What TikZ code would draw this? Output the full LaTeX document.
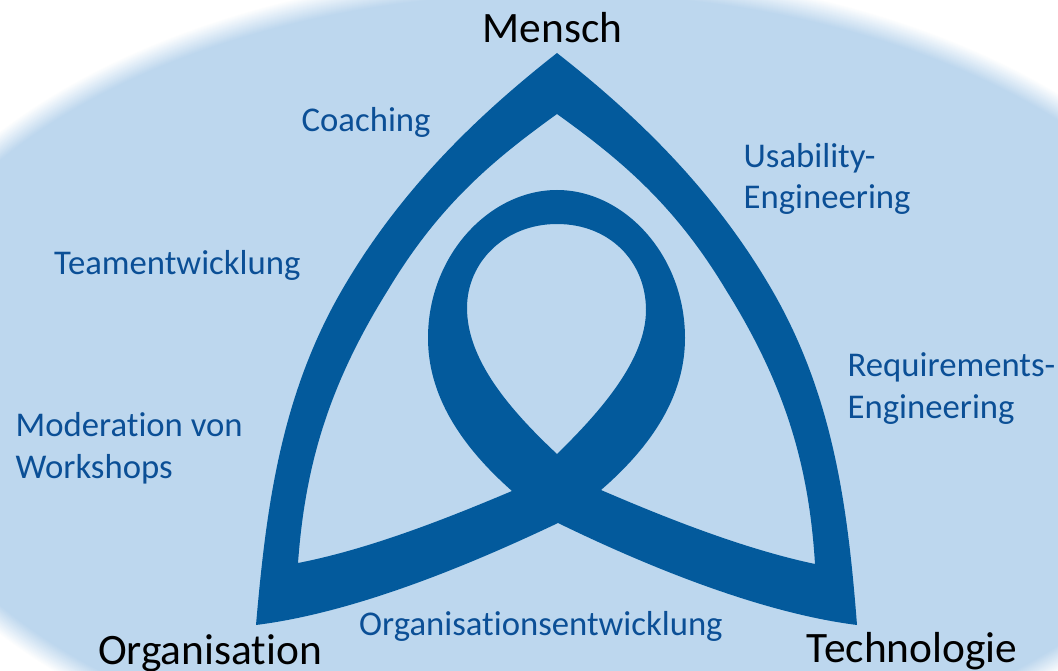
\documentclass[tikz,border=0pt]{standalone}
\usepackage{fontspec}
\setmainfont[Ligatures=NoCommon]{Carlito}
\definecolor{ribbon}{HTML}{035A9C}
\definecolor{bgblue}{HTML}{BDD7EE}
\definecolor{labelblue}{HTML}{0B4F96}
\tikzset{
  mainlabel/.style={text=black,font=\fontsize{43.4}{43.4}\selectfont,inner sep=0pt,anchor=base},
  sublabel/.style={text=labelblue,font=\fontsize{34.7}{41.5}\selectfont,inner sep=0pt,anchor=base west,align=left},
}
\begin{document}
\begin{tikzpicture}[x=1pt,y=-1pt]
\useasboundingbox (0,0) rectangle (1058,671);
\clip (0,0) rectangle (1058,671);
\foreach \i in {0,1,...,24}{
  \pgfmathsetmacro{\mix}{\i*100/24}
  \pgfmathsetmacro{\ra}{702-\i}
  \pgfmathsetmacro{\rb}{414-\i}
  \fill[bgblue!\mix!white] (557,383) ellipse [x radius=\ra, y radius=\rb];
}
\fill[ribbon,even odd rule]
  (557,53) .. controls (627,108) and (710,183) .. (772,290)
  .. controls (834,397) and (848,510) .. (857,625)
  .. controls (754,612) and (634,560) .. (558,523)
  .. controls (480,560) and (360,612) .. (256,625)
  .. controls (266,510) and (280,397) .. (342,290)
  .. controls (404,183) and (487,108) .. (557,53) -- cycle
  (557,114) .. controls (493,160) and (439,205) .. (388,290)
  .. controls (328,386) and (305,467) .. (298,563)
  .. controls (370,549) and (448,518) .. (512,491)
  .. controls (460,445) and (428,395) .. (428,338)
  .. controls (428,255) and (490,190) .. (557,190)
  .. controls (624,190) and (685,255) .. (685,338)
  .. controls (685,395) and (653,445) .. (601,490)
  .. controls (666,518) and (744,549) .. (815,564)
  .. controls (809,467) and (786,386) .. (726,290)
  .. controls (675,205) and (621,160) .. (557,114) -- cycle
  (557,224) .. controls (505,224) and (467,262) .. (467,308)
  .. controls (467,360) and (510,410) .. (557,454)
  .. controls (600,412) and (646,360) .. (646,310)
  .. controls (646,262) and (610,224) .. (557,224) -- cycle;
\node[mainlabel] (mensch) at (552.5,42.5) {Mensch};
\node[mainlabel] (organisation) at (210,664.5) {Organisation};
\node[mainlabel] (technologie) at (912,662) {Technologie};
\node[sublabel] (coaching) at (301.5,132) {Coaching};
\node[sublabel] (usability) at (743.5,209) {Usability-\\Engineering};
\node[sublabel] (team) at (54,275) {Teamentwicklung};
\node[sublabel] (req) at (847.5,418) {Requirements-\\Engineering};
\node[sublabel] (moderation) at (15.5,478) {Moderation von\\Workshops};
\node[sublabel] (orgdev) at (359,635) {Organisationsentwicklung};
\end{tikzpicture}
\end{document}
